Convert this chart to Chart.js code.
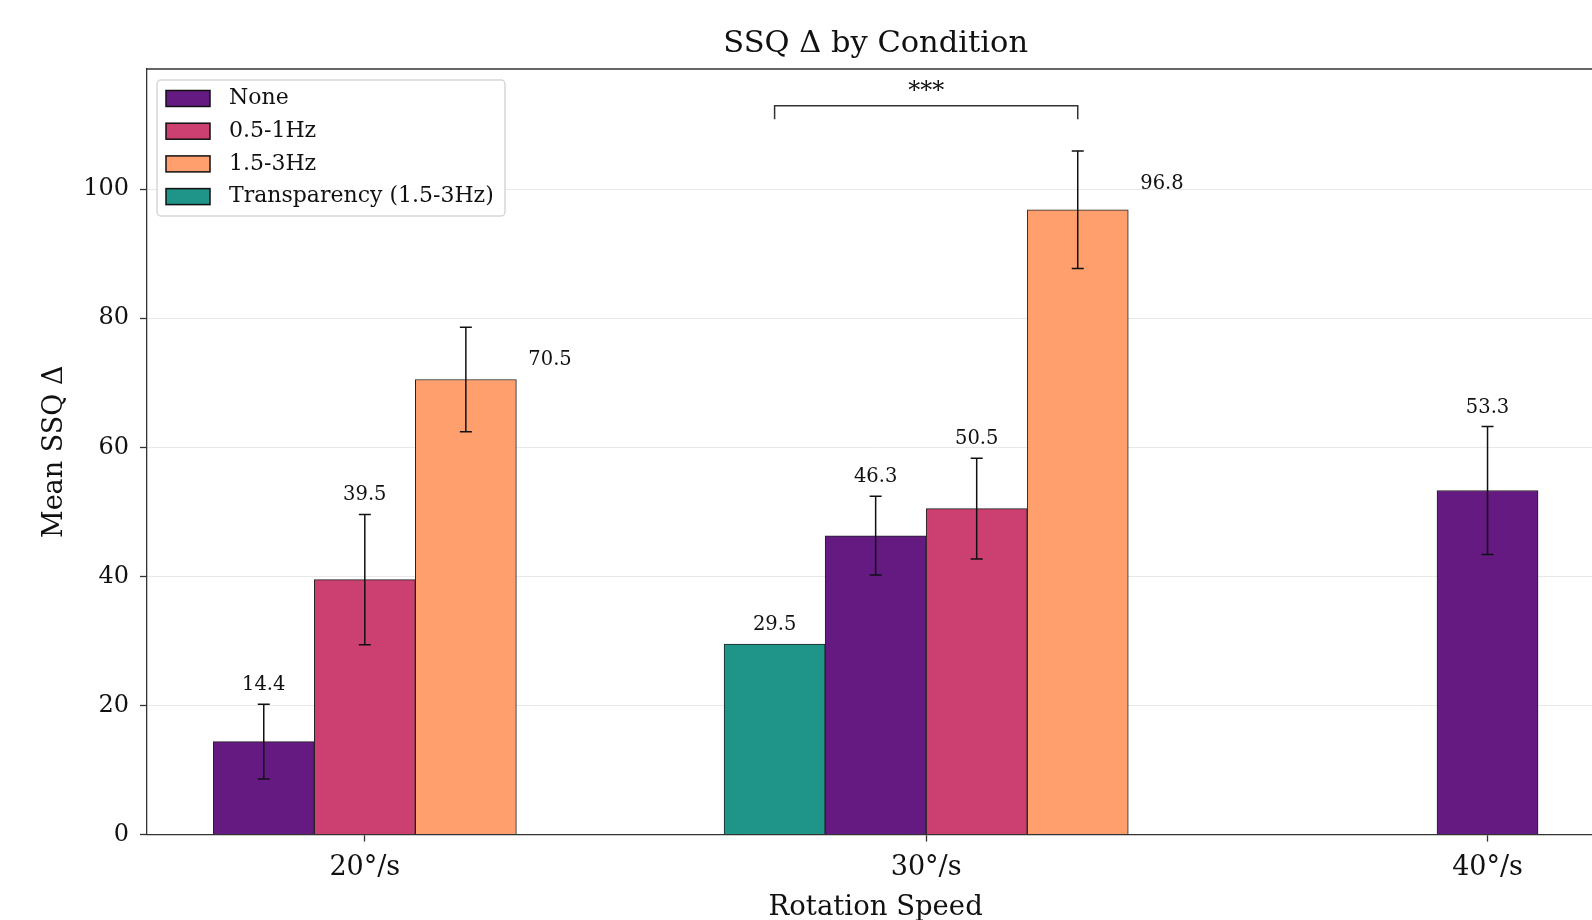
<!DOCTYPE html>
<html>
<head>
<meta charset="utf-8">
<script src="https://cdn.jsdelivr.net/npm/chart.js@4.4.0/dist/chart.umd.min.js"></script>
<style>
  html, body { margin: 0; padding: 0; background: #fff; overflow: hidden; }
  #wrap { position: relative; width: 1640px; height: 920px; }
</style>
</head>
<body>
<div id="wrap"><canvas id="chart"></canvas></div>
<script>
// Values
const speeds = ['20°/s', '30°/s', '40°/s'];
const conditions = ['None', '0.5-1Hz', '1.5-3Hz', 'Transparency (1.5-3Hz)'];
const colors = ['#641a80', '#cc3f71', '#fe9f6d', '#1f958a'];

const noneMean = [14.4, 46.3, 53.3];
const noneErr = [5.8, 6.1, 9.9];
const lowMean = [39.5, 50.5, null];
const lowErr = [10.1, 7.8, null];
const highMean = [70.5, 96.8, null];
const highErr = [8.1, 9.1, null];
const transMean = [null, 29.5, null];
const transErr = [null, null, null];

const yTicks = [0, 20, 40, 60, 80, 100];

// significance bracket: group index, the two conditions, stars
const sigGroup = 1;
const sigFrom = 3;
const sigTo = 2;
const sigLabel = '***';
const sigLevel = 112.9;

const means = [noneMean, lowMean, highMean, transMean];
const errs = [noneErr, lowErr, highErr, transErr];
const barOrder = [3, 0, 1, 2];      // left-to-right inside a group
const sideLabel = [false, false, true, false];
const barWidth = 0.18;
const FONT = "'DejaVu Serif', serif";

// x position of a bar: group centre plus offset among the bars present
function xPos(c, g) {
    const present = barOrder.filter(k => means[k][g] != null);
    const i = present.indexOf(c);
    return g + (i - (present.length - 1) / 2) * barWidth;
}

const datasets = conditions.map((name, c) => ({
    label: name,
    data: speeds.map((s, g) => means[c][g] == null ? null :
        { x: xPos(c, g), y: means[c][g], err: errs[c][g] }).filter(Boolean),
    backgroundColor: colors[c],
    borderColor: '#222',
    borderWidth: 1,
    grouped: false,
    barPercentage: 1,
    categoryPercentage: 1
}));

// Error bars, value labels, significance bracket, top spine and legend
const extras = {
    id: 'extras',
    afterDatasetsDraw(chart) {
        const ctx = chart.ctx;
        const xs = chart.scales.x, ys = chart.scales.y;
        const area = chart.chartArea;
        ctx.save();

        // error bars
        ctx.strokeStyle = '#111';
        ctx.lineWidth = 1.5;
        chart.data.datasets.forEach((ds, c) => {
            chart.getDatasetMeta(c).data.forEach((bar, i) => {
                const d = ds.data[i];
                if (!d.err) return;
                const top = ys.getPixelForValue(d.y + d.err);
                const bot = ys.getPixelForValue(d.y - d.err);
                ctx.beginPath();
                ctx.moveTo(bar.x, top); ctx.lineTo(bar.x, bot);
                ctx.moveTo(bar.x - 6, top); ctx.lineTo(bar.x + 6, top);
                ctx.moveTo(bar.x - 6, bot); ctx.lineTo(bar.x + 6, bot);
                ctx.stroke();
            });
        });

        // value labels
        ctx.fillStyle = '#111';
        ctx.font = '19.5px ' + FONT;
        ctx.textAlign = 'center';
        ctx.textBaseline = 'middle';
        chart.data.datasets.forEach((ds, c) => {
            ds.data.forEach(d => {
                let tx, ty;
                if (sideLabel[c]) {
                    tx = xs.getPixelForValue(d.x + 0.15);
                    ty = ys.getPixelForValue(d.y * 1.042);
                } else {
                    tx = xs.getPixelForValue(d.x);
                    ty = ys.getPixelForValue(d.y + (d.err || 0) + 2.95);
                }
                ctx.fillText(d.y.toFixed(1), tx, ty);
            });
        });

        // significance bracket
        const x1 = xs.getPixelForValue(xPos(sigFrom, sigGroup));
        const x2 = xs.getPixelForValue(xPos(sigTo, sigGroup));
        const yb = ys.getPixelForValue(sigLevel);
        const yl = ys.getPixelForValue(sigLevel - 2.1);
        ctx.strokeStyle = '#333';
        ctx.lineWidth = 1.5;
        ctx.beginPath();
        ctx.moveTo(x1, yl); ctx.lineTo(x1, yb); ctx.lineTo(x2, yb); ctx.lineTo(x2, yl);
        ctx.stroke();
        ctx.font = '24px ' + FONT;
        ctx.fillText(sigLabel, (x1 + x2) / 2, ys.getPixelForValue(sigLevel + 2.1));

        // top spine
        ctx.strokeStyle = '#333';
        ctx.lineWidth = 1.3;
        ctx.beginPath();
        ctx.moveTo(area.left, area.top); ctx.lineTo(area.right, area.top);
        ctx.stroke();

        // legend
        const lx = area.left + 10, ly = area.top + 11, lw = 348, lh = 136;
        ctx.fillStyle = 'rgba(255,255,255,0.85)';
        ctx.strokeStyle = '#d6d6d6';
        ctx.lineWidth = 1.5;
        ctx.beginPath();
        ctx.roundRect(lx, ly, lw, lh, 4);
        ctx.fill(); ctx.stroke();
        ctx.font = '22px ' + FONT;
        ctx.textAlign = 'left';
        conditions.forEach((name, c) => {
            const cy = ly + 18.5 + c * 32.7;
            ctx.fillStyle = colors[c];
            ctx.fillRect(lx + 9, cy - 8, 44, 16);
            ctx.strokeStyle = '#111';
            ctx.lineWidth = 1.5;
            ctx.strokeRect(lx + 9, cy - 8, 44, 16);
            ctx.fillStyle = '#111';
            ctx.fillText(name, lx + 72, cy);
        });
        ctx.restore();
    }
};

const chart = new Chart(document.getElementById('chart'), {
    type: 'bar',
    data: { datasets: datasets },
    options: {
        responsive: true,
        maintainAspectRatio: false,
        animation: false,
        layout: { padding: { top: 0, right: 35.7, bottom: 0, left: 0 } },
        plugins: {
            legend: { display: false },
            tooltip: { enabled: false },
            title: {
                display: true,
                fullSize: false,
                text: 'SSQ Δ by Condition',
                color: '#111',
                font: { family: FONT, size: 30.5, weight: 'normal', lineHeight: 1.2 },
                padding: { top: 25.6, bottom: 6.8 }
            }
        },
        scales: {
            x: {
                type: 'linear',
                min: -0.388,
                max: 2.208,
                offset: false,
                afterBuildTicks: scale => { scale.ticks = speeds.map((s, i) => ({ value: i })); },
                afterFit: scale => { scale.height = 85.4; },
                grid: { offset: false, drawOnChartArea: false, drawTicks: true, tickLength: 7, tickColor: '#333', tickWidth: 1.3 },
                border: { display: true, color: '#333', width: 1.3 },
                ticks: {
                    color: '#111',
                    padding: 10,
                    maxRotation: 0,
                    autoSkip: false,
                    font: { family: FONT, size: 27 },
                    callback: v => speeds[Math.round(v)]
                },
                title: {
                    display: true,
                    text: 'Rotation Speed',
                    color: '#111',
                    font: { family: FONT, size: 27.5, lineHeight: 0.8 },
                    padding: { top: 0, bottom: 1 }
                }
            },
            y: {
                min: 0,
                max: 118.6,
                afterBuildTicks: scale => { scale.ticks = yTicks.map(v => ({ value: v })); },
                afterFit: scale => { scale.width = 147; },
                grid: {
                    color: c => c.tick && c.tick.value === 0 ? 'rgba(0,0,0,0)' : '#e8e8e8',
                    lineWidth: 1,
                    drawTicks: true,
                    tickLength: 7,
                    tickColor: '#333',
                    tickWidth: 1.3
                },
                border: { display: true, color: '#333', width: 1.3 },
                ticks: {
                    color: '#111',
                    padding: 11,
                    includeBounds: false,
                    font: { family: FONT, size: 24 }
                },
                title: {
                    display: true,
                    text: 'Mean SSQ Δ',
                    color: '#111',
                    font: { family: FONT, size: 27, lineHeight: 1 },
                    padding: { top: 41.5, bottom: 0 }
                }
            }
        }
    },
    plugins: [extras]
});
</script>
</body>
</html>
